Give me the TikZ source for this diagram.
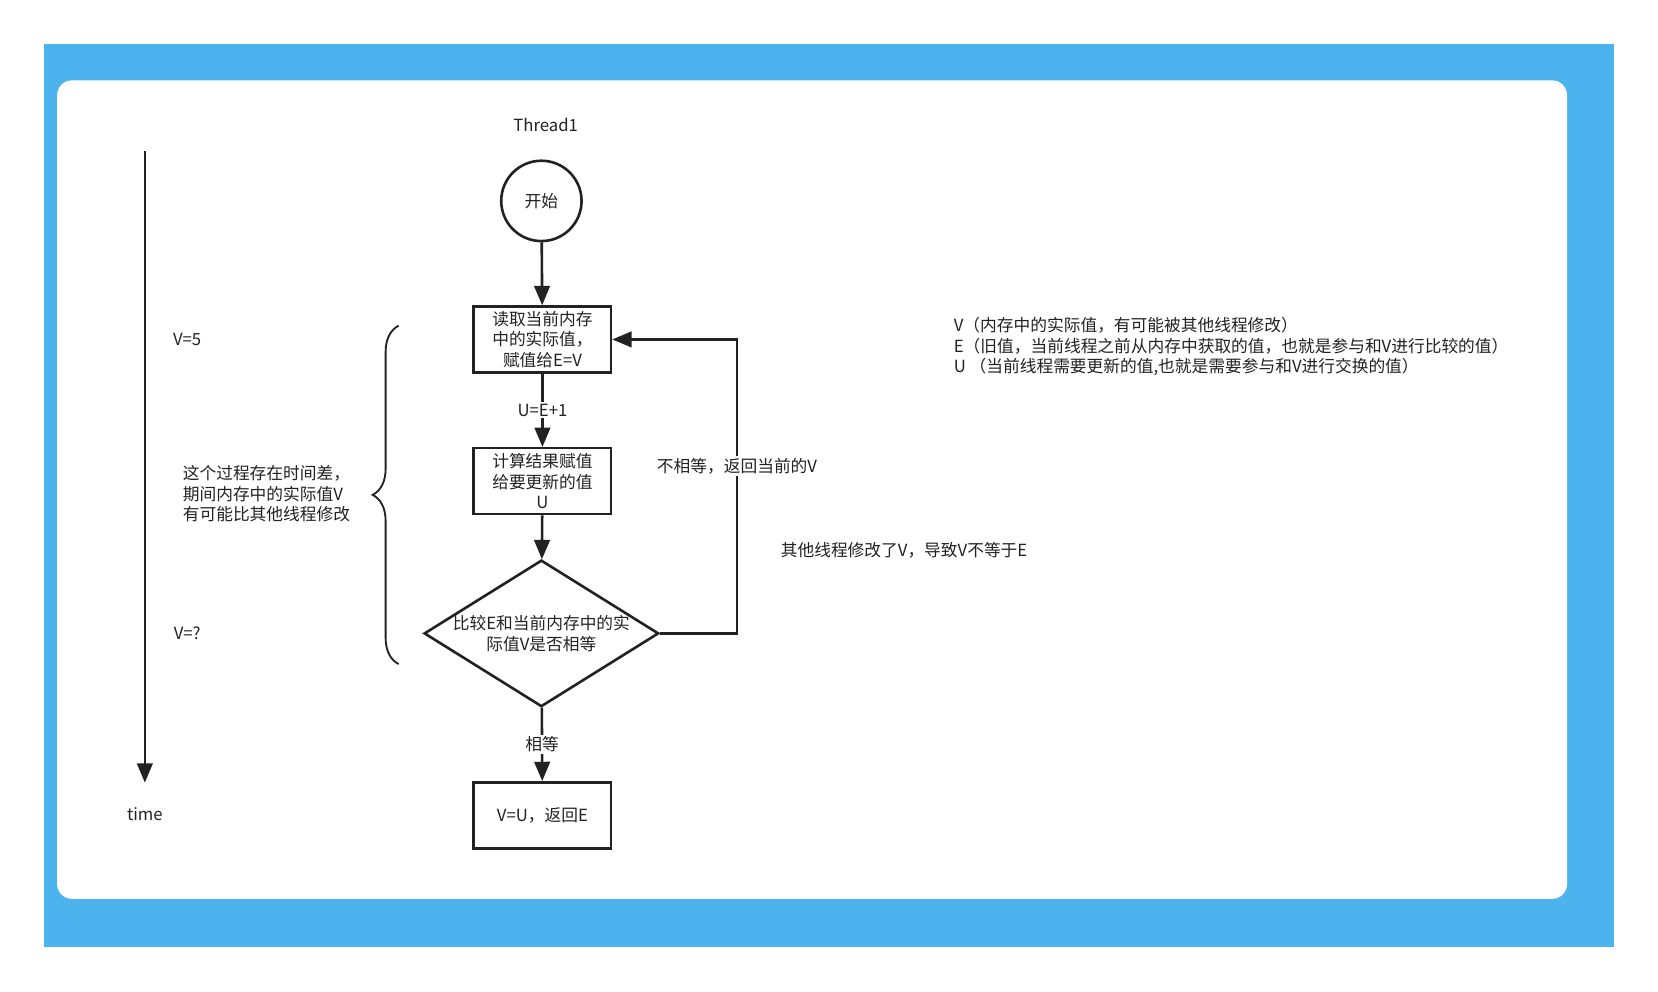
\documentclass[tikz,border=0pt]{standalone}
\usepackage{fontspec}
\setmainfont{Noto Sans CJK SC}
\usetikzlibrary{arrows,shapes,positioning,decorations.pathreplacing}
\definecolor{frameblue}{HTML}{4DB3EF}
\definecolor{ink}{HTML}{222222}
\begin{document}
\begin{tikzpicture}
[x=0.02cm, y=-0.02cm, draw=ink, line width=1.4pt, >=triangle 45,
font=\fontsize{9}{11}\selectfont\color{ink},
stepbox/.style={rectangle, draw, minimum width=2.6cm, minimum height=1.25cm, inner sep=1pt, align=center},
label/.style={fill=white, inner sep=1pt, align=center}]

\useasboundingbox (0,0) rectangle (1568,938);
\fill[frameblue] (42,42) rectangle (1526,896);
\fill[white, rounded corners=8pt] (54,76) rectangle (1482,850);

\node (thread) at (516,118) {Thread1};
\node[circle, draw, minimum size=1.52cm, inner sep=0pt] (start) at (512,190) {开始};
\node[stepbox] (read) at (513,321) {读取当前内存\\中的实际值，\\赋值给E=V};
\node[stepbox] (calc) at (513,455) {计算结果赋值\\给要更新的值\\U};
\node[diamond, draw, aspect=1.6, minimum width=4.3cm, minimum height=2.68cm, inner sep=0pt, align=center] (cmp) at (512,599) {比较E和当前内存中的实\\际值V是否相等};
\node[stepbox] (done) at (513,771) {V=U，返回E};
\coordinate (loopa) at (697,599);
\coordinate (loopb) at (697,321);

\draw[->] (start) -- (read);
\draw[->] (read) -- node[label] {U=E+1} (calc);
\draw[->] (calc) -- (cmp);
\draw[->] (cmp) -- node[label] {相等} (done);
\draw[->] (cmp.east) -- (loopa) -- node[label, pos=0.57] {不相等，返回当前的V} (loopb) -- (read.east);
\node (other) at (855,520) {其他线程修改了V，导致V不等于E};

% time line
\coordinate (ttop) at (137,143);
\coordinate (tbot) at (137,740);
\draw[->] (ttop) -- (tbot);
\node (time) at (137,770) {time};
\node (vfive) at (177,321) {V=5};
\node (vq) at (177,599) {V=?};
\draw[line width=1pt, decorate, decoration={brace, amplitude=14pt}] (377,628) -- (377,308);
\node[align=left] (gap) at (252,467) {这个过程存在时间差，\\期间内存中的实际值V\\有可能比其他线程修改};

\node[anchor=west, align=left] (legend) at (895,328) {V（内存中的实际值，有可能被其他线程修改）\\E（旧值，当前线程之前从内存中获取的值，也就是参与和V进行比较的值）\\U （当前线程需要更新的值,也就是需要参与和V进行交换的值）};
\end{tikzpicture}
\end{document}
